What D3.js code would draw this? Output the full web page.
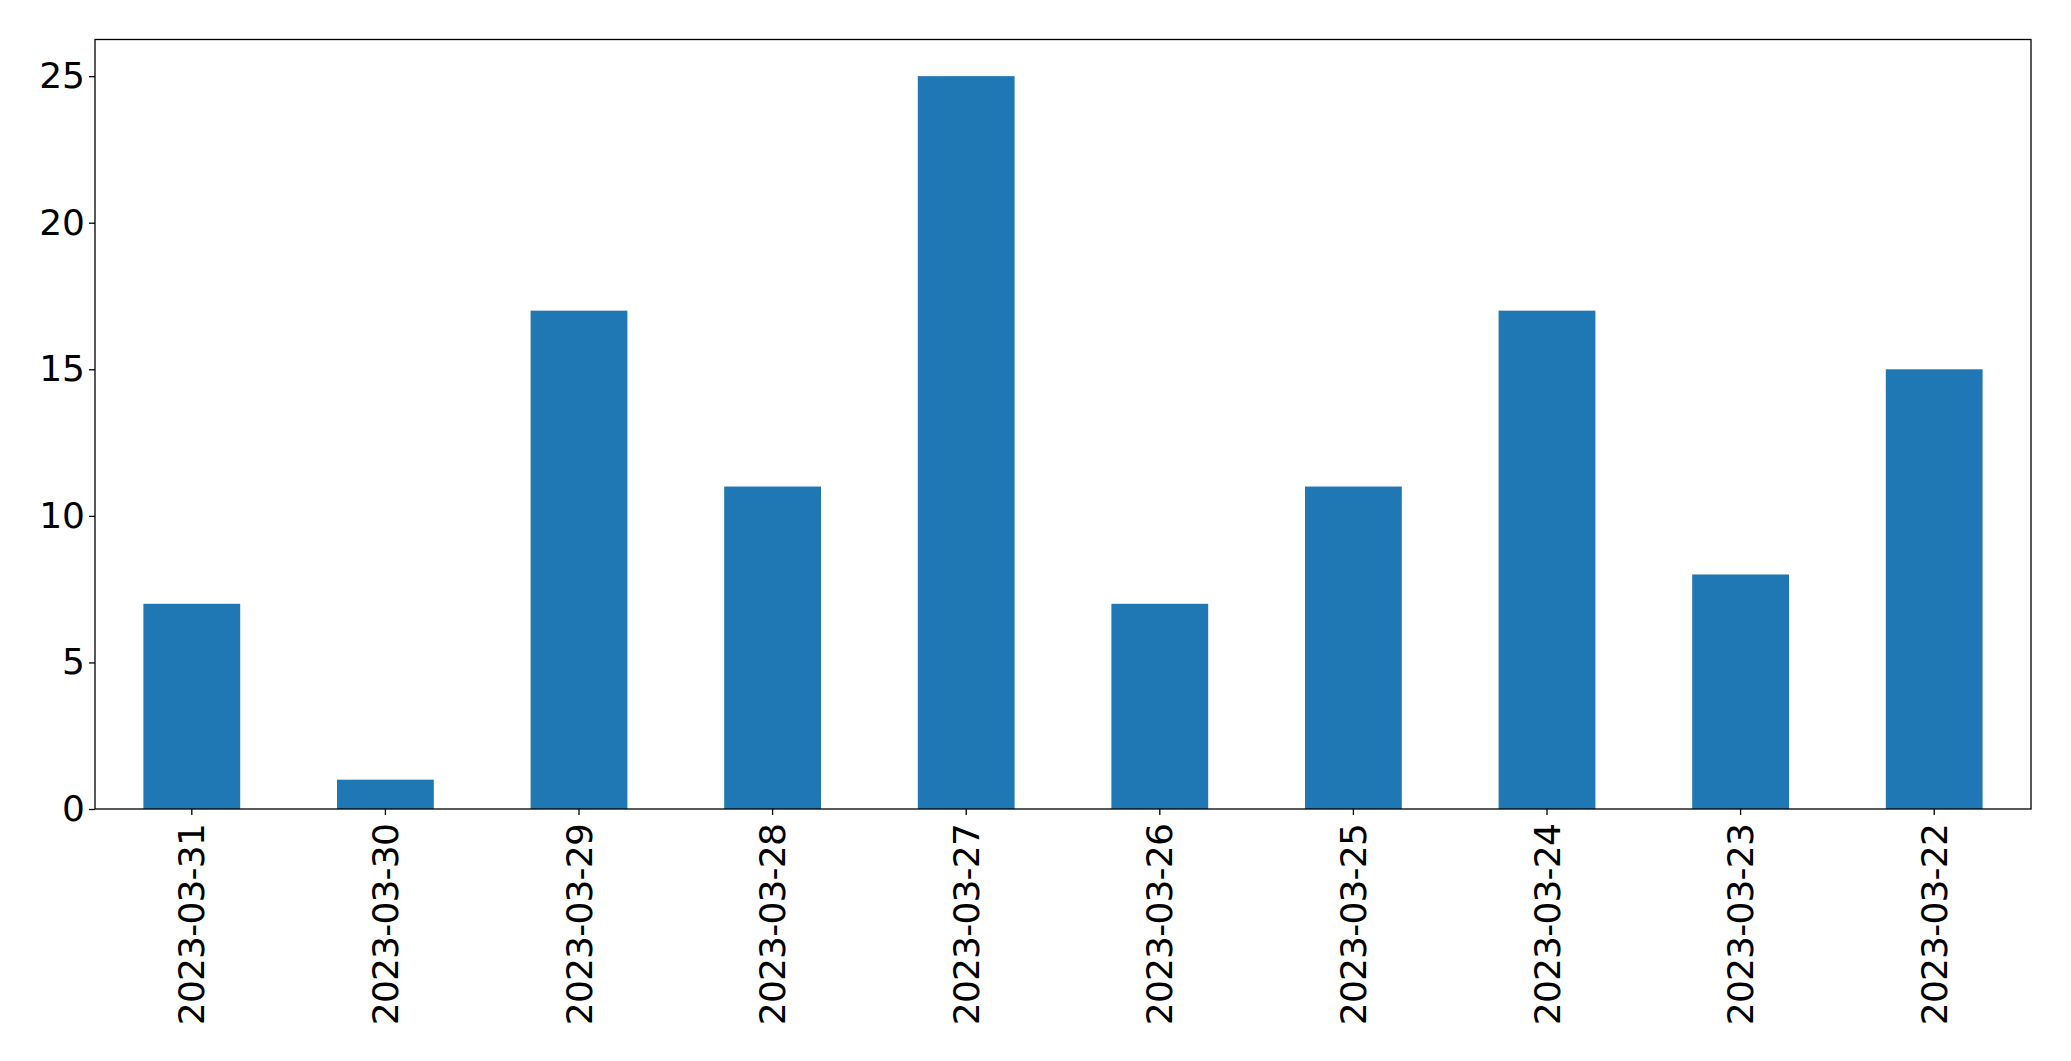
<!DOCTYPE html>
<html>
<head>
<meta charset="utf-8">
<script src="https://cdn.jsdelivr.net/npm/d3@7"></script>
<style>
  body { margin: 0; background: #fff; }
  text { font-family: "DejaVu Sans", sans-serif; }
</style>
</head>
<body>
<svg id="chart"></svg>
<script>
// data
var dates = ["2023-03-31", "2023-03-30", "2023-03-29", "2023-03-28", "2023-03-27",
             "2023-03-26", "2023-03-25", "2023-03-24", "2023-03-23", "2023-03-22"];
var counts = [7, 1, 17, 11, 25, 7, 11, 17, 8, 15];
var yTicks = [0, 5, 10, 15, 20, 25];

var width = 2071, height = 1061;
var margin = {left: 95, right: 40, top: 39.5, bottom: 252};

var svg = d3.select("#chart")
    .attr("width", width)
    .attr("height", height);

var x = d3.scaleBand()
    .domain(dates)
    .range([margin.left, width - margin.right])
    .paddingInner(0.5)
    .paddingOuter(0.25);

var yMax = d3.max(counts) * 1.05;
var y = d3.scaleLinear()
    .domain([0, yMax])
    .range([height - margin.bottom, margin.top]);

svg.append("g")
    .selectAll("rect")
    .data(counts)
    .enter()
    .append("rect")
    .attr("x", (d, i) => x(dates[i]))
    .attr("y", d => y(d))
    .attr("width", x.bandwidth())
    .attr("height", d => y(0) - y(d))
    .attr("fill", "#1f77b4");

var xAxis = svg.append("g")
    .attr("transform", "translate(0," + y(0) + ")")
    .call(d3.axisBottom(x).tickSizeOuter(0).tickSize(6).tickPadding(8));

xAxis.select(".domain").remove();
xAxis.selectAll("line").attr("stroke", "#000").attr("stroke-width", 1.3);
xAxis.selectAll("text")
    .style("font-size", "36px")
    .style("letter-spacing", "-0.8px")
    .attr("fill", "#000")
    .attr("transform", "rotate(-90)")
    .attr("text-anchor", "end")
    .attr("x", -15)
    .attr("y", 0)
    .attr("dy", "0.35em");

var yAxis = svg.append("g")
    .attr("transform", "translate(" + margin.left + ",0)")
    .call(d3.axisLeft(y).tickValues(yTicks).tickSize(6).tickPadding(4).tickSizeOuter(0));

yAxis.select(".domain").remove();
yAxis.selectAll("line").attr("stroke", "#000").attr("stroke-width", 1.3);
yAxis.selectAll("text")
    .style("font-size", "36px")
    .attr("fill", "#000");

// frame
svg.append("rect")
    .attr("x", margin.left)
    .attr("y", margin.top)
    .attr("width", width - margin.right - margin.left)
    .attr("height", y(0) - margin.top)
    .attr("fill", "none")
    .attr("stroke", "#000")
    .attr("stroke-width", 1.3);
</script>
</body>
</html>
